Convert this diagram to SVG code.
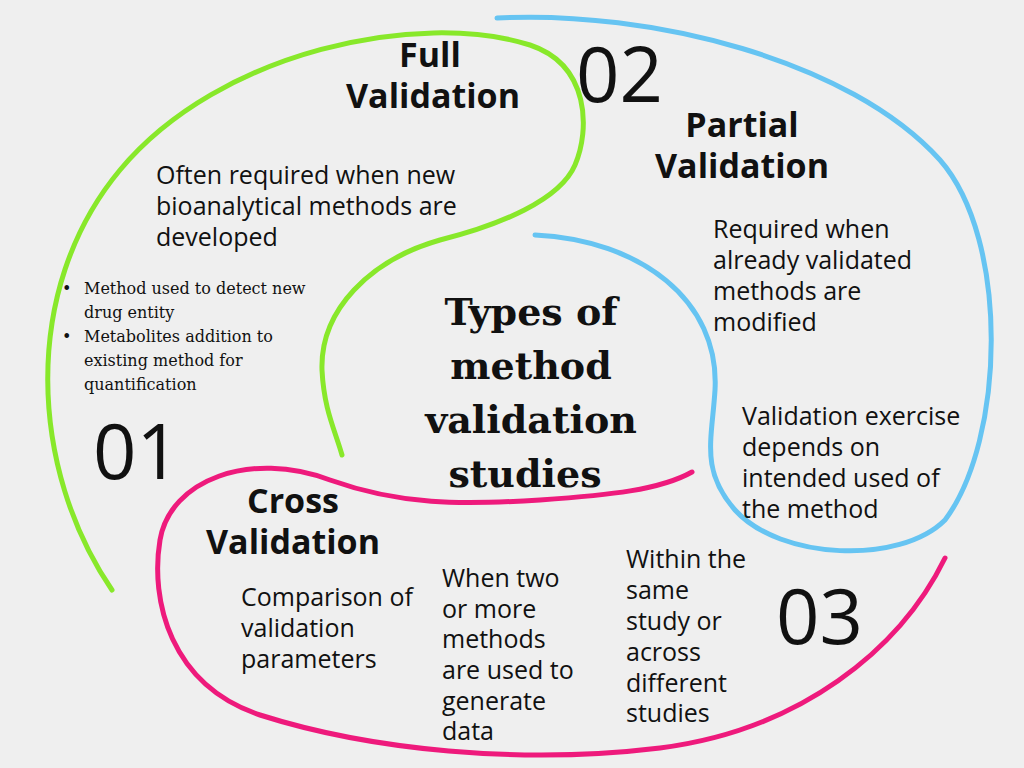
<svg xmlns="http://www.w3.org/2000/svg" width="1024" height="768" viewBox="0 0 1024 768">
<style>
.c{fill:none;stroke-width:5;stroke-linecap:round}
.t{font-family:"Open Sans","Noto Sans",sans-serif;font-size:25px;fill:#111}
.h{font-family:"Open Sans","Noto Sans",sans-serif;font-size:34px;font-weight:bold;fill:#111}
.n{font-family:"Open Sans","Noto Sans",sans-serif;font-size:76px;fill:#111}
.s{font-family:"DejaVu Serif",serif;font-size:16px;fill:#111}
.ti{font-family:"DejaVu Serif",serif;font-size:38px;font-weight:bold;fill:#111}
</style>
<rect width="1024" height="768" fill="#efefef"/>
<g id="connectors">
<path class="c" stroke="#88e82a" d="M112,590 C30,470 20,290 120,170 C220,50 420,10 530,45 C590,65 590,130 575,165 C560,200 500,225 440,240 C370,260 320,310 322,370 C324,410 335,430 342,455"/>
<path class="c" stroke="#66c4f2" d="M497,18 C650,10 850,60 940,160 C1010,240 1005,440 945,520 C900,565 780,560 735,510 C700,470 712,440 715,390 C720,300 640,240 535,235"/>
<path class="c" stroke="#ee1a7c" d="M945,558 C900,650 800,730 660,748 C520,765 370,750 260,715 C170,685 150,600 160,540 C170,480 250,450 330,480 C400,505 460,505 540,500 C610,495 660,490 692,472"/>
</g>
<g id="full">
<text class="h" x="430" y="67" text-anchor="middle">Full</text>
<text class="h" x="433" y="108" text-anchor="middle">Validation</text>
<text class="t"><tspan x="156" y="184">Often required when new</tspan><tspan x="156" y="215">bioanalytical methods are</tspan><tspan x="156" y="246">developed</tspan></text>
<text class="s"><tspan x="62" y="294">•</tspan><tspan x="84" y="294">Method used to detect new</tspan><tspan x="84" y="318">drug entity</tspan><tspan x="62" y="342">•</tspan><tspan x="84" y="342">Metabolites addition  to</tspan><tspan x="84" y="366">existing method for</tspan><tspan x="84" y="390">quantification</tspan></text>
<text class="n" x="93" y="479">01</text>
</g>
<g id="partial">
<text class="n" x="576" y="102">02</text>
<text class="h" x="742" y="137" text-anchor="middle">Partial</text>
<text class="h" x="742" y="178" text-anchor="middle">Validation</text>
<text class="t"><tspan x="713" y="238">Required when</tspan><tspan x="713" y="269">already validated</tspan><tspan x="713" y="300">methods are</tspan><tspan x="713" y="331">modified</tspan></text>
<text class="t"><tspan x="742" y="425">Validation exercise</tspan><tspan x="742" y="456">depends on</tspan><tspan x="742" y="487">intended used of</tspan><tspan x="742" y="518">the method</tspan></text>
</g>
<g id="center">
<text class="ti" text-anchor="middle"><tspan x="531" y="325">Types of</tspan><tspan x="531" y="379">method</tspan><tspan x="531" y="433">validation</tspan><tspan x="525" y="487">studies</tspan></text>
</g>
<g id="cross">
<text class="h" x="293" y="513" text-anchor="middle">Cross</text>
<text class="h" x="293" y="554" text-anchor="middle">Validation</text>
<text class="t"><tspan x="241" y="606">Comparison of</tspan><tspan x="241" y="637">validation</tspan><tspan x="241" y="668">parameters</tspan></text>
<text class="t"><tspan x="442" y="587">When two</tspan><tspan x="442" y="618">or more</tspan><tspan x="442" y="648">methods</tspan><tspan x="442" y="679">are used to</tspan><tspan x="442" y="710">generate</tspan><tspan x="442" y="740">data</tspan></text>
<text class="t"><tspan x="626" y="568">Within the</tspan><tspan x="626" y="599">same</tspan><tspan x="626" y="630">study or</tspan><tspan x="626" y="661">across</tspan><tspan x="626" y="692">different</tspan><tspan x="626" y="722">studies</tspan></text>
<text class="n" x="776" y="644">03</text>
</g>
</svg>
